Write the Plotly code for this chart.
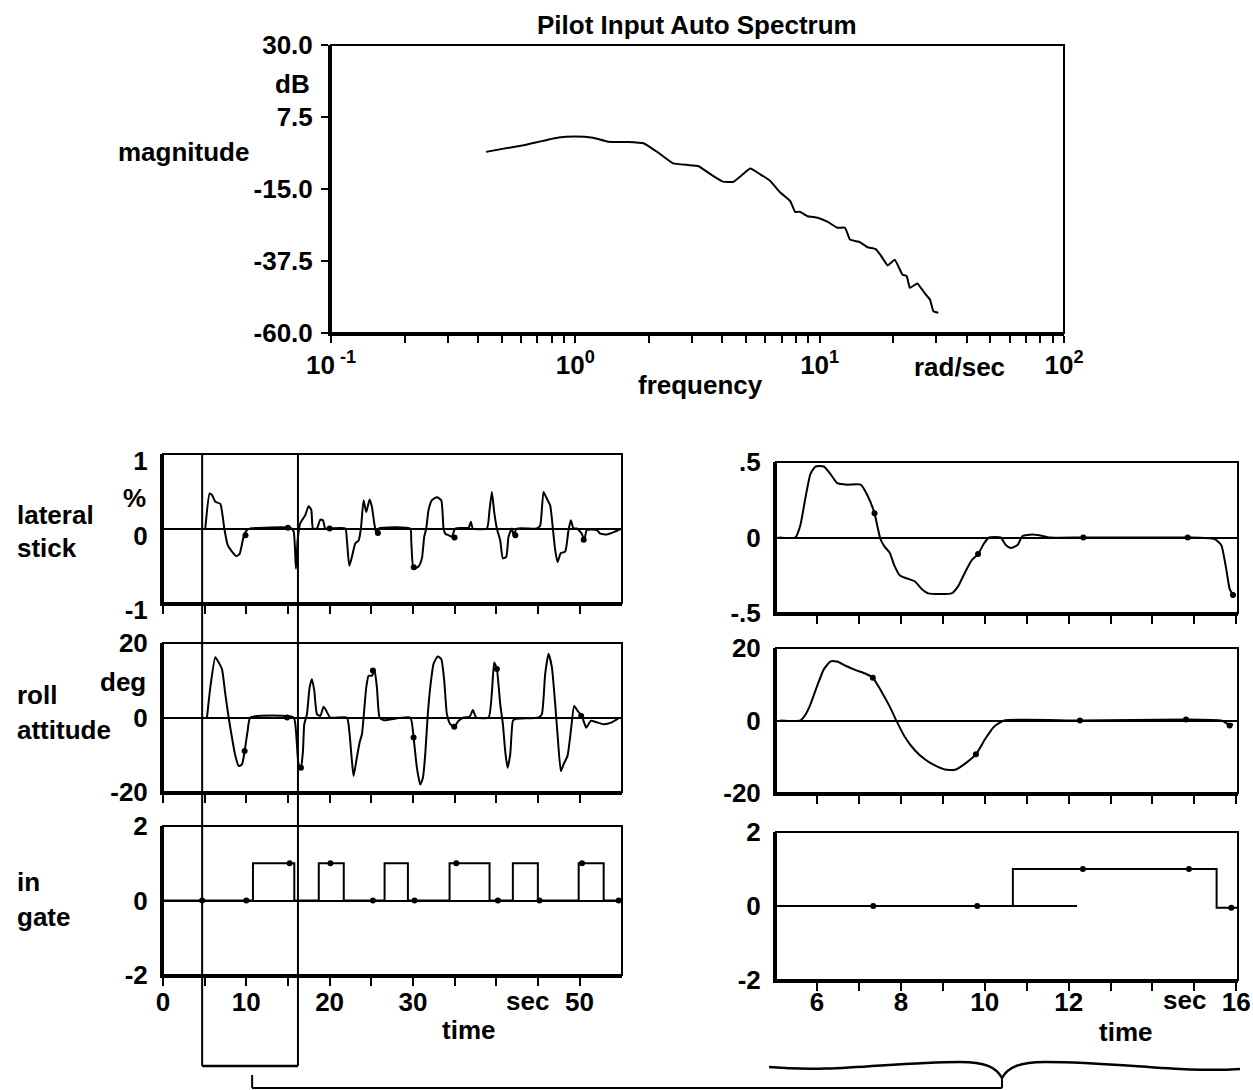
import plotly.graph_objects as go

W, H = 1253, 1090
FONT = dict(family="Liberation Sans, Arial, sans-serif", size=26, color="black", weight="bold")

# ---------------- data ----------------
# Pilot input auto spectrum (rad/sec, dB)
spec_freq = [0.431, 0.614, 0.853, 1.0, 1.18, 1.36, 1.64, 1.9, 2.18, 2.51, 2.89, 3.18, 3.66,
             4.02, 4.42, 4.85, 5.2, 5.71, 6.28, 6.9, 7.58, 7.94, 8.3, 8.93, 9.81, 10.8, 11.8,
             12.7, 13.3, 14.6, 15.7, 16.9, 17.7, 19.0, 20.3, 21.8, 22.7, 23.4, 25.1, 27.0,
             28.3, 29.2, 30.6]
spec_db = [-3.4, -1.3, 1.1, 1.4, 1.0, -0.2, -0.3, -0.7, -3.6, -7.0, -7.5, -7.8, -10.9,
           -12.7, -12.8, -10.4, -8.6, -10.4, -12.5, -16.1, -18.8, -22.2, -22.1, -23.5, -24.0, -25.3, -27.1,
           -27.1, -30.8, -31.6, -33.2, -33.7, -35.5, -38.9, -37.1, -41.7, -42.2, -45.9, -44.5, -47.7,
           -49.6, -53.2, -53.7]

# full run: lateral stick (%), time in sec
lat_full = [(5.08, 0), (5.6, 0.47), (5.88, 0.45), (6.28, 0.36), (6.88, 0.33), (7.36, 0), (7.76, -0.22),
            (8.28, -0.31), (8.8, -0.37), (9.2, -0.34), (9.68, -0.11), (10.08, -0.02), (10.48, 0),
            (15.28, 0.01), (15.68, -0.04), (15.96, -0.54), (16.16, -0.16), (16.48, 0.07), (17.08, 0.18),
            (17.48, 0.30), (17.8, 0.25), (18.0, 0), (18.48, 0), (18.88, 0.12), (19.2, 0.11), (19.48, 0),
            (20.08, 0), (21.88, 0), (22.08, -0.16), (22.36, -0.5), (22.68, -0.38), (23.08, -0.2),
            (23.48, -0.16), (23.76, 0), (24.08, 0.38), (24.4, 0.22), (24.8, 0.39), (25.08, 0.29),
            (25.36, 0.07), (25.6, -0.07), (25.88, 0), (29.68, 0), (29.8, -0.16), (30.08, -0.54),
            (30.68, -0.51), (31.08, -0.4), (31.36, -0.11), (31.6, 0), (31.88, 0.25), (32.28, 0.38),
            (32.88, 0.42), (33.4, 0.38), (33.68, 0), (33.88, -0.07), (34.28, -0.09), (34.68, -0.11),
            (35.08, 0), (36.68, 0.01), (36.96, 0.09), (37.2, 0), (38.88, 0), (39.2, 0.25), (39.48, 0.49),
            (39.76, 0.22), (40.08, 0), (40.48, -0.16), (40.8, -0.4), (41.2, -0.38), (41.48, -0.11),
            (41.88, 0), (42.08, -0.09), (42.48, 0), (44.88, 0), (45.28, 0.04), (45.68, 0.49),
            (46.08, 0.40), (46.48, 0.31), (46.8, 0), (47.08, -0.29), (47.36, -0.45), (47.76, -0.33),
            (48.28, -0.31), (48.68, -0.02), (48.96, 0.11), (49.28, 0), (49.68, 0), (50.28, -0.07),
            (50.56, -0.16), (50.88, -0.02), (52.08, -0.02), (52.48, -0.07), (53.28, -0.08),
            (54.28, -0.04), (54.88, -0.01)]
lat_full_dot_t = [9.9, 15.0, 20.0, 25.8, 30.1, 35.0, 42.3, 50.5]
lat_full_dot_v = [-0.09, 0.01, 0.0, -0.06, -0.52, -0.12, -0.09, -0.15]

# full run: roll attitude (deg)
roll_full = [(5.28, 0), (5.68, 8.1), (6.28, 16.2), (6.68, 14.8), (7.08, 13.0), (7.48, 6.3), (7.88, 0),
             (8.28, -5.4), (8.68, -10.3), (9.08, -13.0), (9.48, -12.6), (9.8, -9.0), (10.16, -3.6),
             (10.48, 0), (15.68, 0), (15.96, -3.6), (16.28, -12.6), (16.56, -13.5), (16.8, -9.0),
             (16.96, -1.8), (17.28, 0.9), (17.6, 8.1), (17.88, 10.3), (18.16, 7.2), (18.48, 0.9),
             (18.88, 0.4), (19.28, 2.9), (19.6, 1.8), (20.08, 0), (22.08, 0), (22.36, -3.6),
             (22.68, -11.7), (22.88, -15.7), (23.2, -11.7), (23.6, -6.7), (23.88, -4.5), (24.08, 0),
             (24.4, 8.1), (24.68, 11.2), (25.08, 11.2), (25.4, 12.6), (25.68, 8.1), (26.0, 0),
             (26.48, -0.7), (29.68, 0), (30.08, -5.4), (30.48, -13.5), (30.88, -18.0), (31.2, -16.2),
             (31.48, -9.9), (31.76, 0), (32.08, 8.1), (32.48, 14.4), (32.96, 16.4), (33.4, 15.7),
             (33.76, 9.9), (34.08, 0.9), (34.48, -1.8), (34.96, -2.5), (35.48, -0.9), (36.08, 0),
             (36.8, 0.2), (37.2, 2.0), (37.6, 0), (39.08, 0), (39.48, 6.7), (39.76, 14.8), (40.08, 13.0),
             (40.48, 3.6), (40.8, -1.8), (41.08, -9.0), (41.36, -13.5), (41.68, -9.9), (42.0, -0.9),
             (42.28, -0.4), (45.08, 0), (45.48, 0.9), (45.88, 11.7), (46.28, 17.1), (46.68, 13.5),
             (47.08, 3.6), (47.36, -4.5), (47.76, -14.4), (48.08, -12.6), (48.56, -10.3), (48.96, -3.6),
             (49.36, 3.1), (49.76, 1.8), (50.28, 0.4), (50.8, -2.7), (51.36, -0.9), (52.08, -1.3),
             (52.88, -1.8), (53.88, -1.3), (54.68, -0.2)]
roll_full_dot_t = [9.8, 14.9, 16.56, 25.2, 30.08, 34.96, 40.08, 50.2]
roll_full_dot_v = [-9.0, 0.0, -13.5, 12.6, -5.4, -2.5, 13.0, 0.4]

# full run: in-gate flag (step changes)
gate_full_t = [0.0, 10.8, 15.76, 18.7, 21.7, 26.6, 29.4, 34.4, 39.2, 42.0, 45.0, 49.9, 52.9, 54.7]
gate_full_v = [0, 1, 0, 1, 0, 1, 0, 1, 0, 1, 0, 1, 0, 0]
gate_full_dot_t = [4.7, 10.0, 15.2, 20.1, 25.2, 30.2, 35.2, 40.2, 45.2, 50.3, 54.7]
gate_full_dot_v = [0, 0, 1, 1, 0, 0, 1, 0, 0, 1, 0]

# expanded segment: lateral stick
lat_zoom = [(5.08, 0), (5.48, 0), (5.6, 0.08), (5.72, 0.26), (5.84, 0.42), (5.96, 0.47), (6.16, 0.47),
            (6.32, 0.42), (6.48, 0.36), (6.72, 0.35), (7.04, 0.35), (7.2, 0.28), (7.37, 0.16),
            (7.45, 0.06), (7.51, -0.01), (7.61, -0.06), (7.73, -0.10), (7.85, -0.19), (7.97, -0.25),
            (8.13, -0.27), (8.33, -0.29), (8.49, -0.34), (8.65, -0.37), (9.21, -0.37), (9.37, -0.32),
            (9.53, -0.23), (9.69, -0.15), (9.84, -0.11), (9.98, -0.04), (10.1, 0), (10.38, 0),
            (10.5, -0.05), (10.62, -0.07), (10.78, -0.05), (10.9, 0.01), (11.14, 0.02), (11.38, 0.01),
            (11.54, 0), (12.35, 0), (14.84, 0), (15.48, -0.01), (15.64, -0.05), (15.76, -0.21),
            (15.84, -0.34), (15.92, -0.38)]
lat_zoom_dot_t = [7.37, 9.84, 12.35, 14.84, 15.92]
lat_zoom_dot_v = [0.16, -0.11, 0.0, 0.0, -0.38]

# expanded segment: roll attitude
roll_zoom = [(5.12, 0), (5.6, 0), (5.72, 1.6), (5.84, 4.4), (6.0, 9.5), (6.16, 14.1), (6.32, 16.3),
             (6.48, 16.3), (6.68, 15.1), (6.92, 13.9), (7.16, 12.9), (7.33, 11.8), (7.53, 8.1),
             (7.73, 3.9), (7.89, 0), (8.09, -4.5), (8.33, -8.2), (8.57, -10.7), (8.81, -12.4),
             (9.05, -13.5), (9.29, -13.6), (9.53, -11.9), (9.79, -9.3), (10.02, -4.9), (10.22, -1.7),
             (10.46, 0), (12.27, 0), (14.8, 0.3), (15.64, 0), (15.76, -0.7), (15.84, -1.4), (15.92, -1.0)]
roll_zoom_dot_t = [7.33, 9.79, 12.27, 14.8, 15.84]
roll_zoom_dot_v = [11.8, -9.3, 0.0, 0.3, -1.4]

# expanded segment: in-gate flag
gate_zoom_t = [5.05, 10.67, 15.53, 16.02]
gate_zoom_v = [0, 1, -0.05, -0.05]
gate_zoom_dot_t = [7.34, 9.82, 12.34, 14.87, 15.88]
gate_zoom_dot_v = [0, 0, 1, 1, -0.05]
gate_zoom_ref_end = 12.2

# tick positions and labels
freq_major = [0.1, 1, 10, 100]
freq_major_text = ["10<sup> -1</sup>", "10<sup>0</sup>", "10<sup>1</sup>", "10<sup>2</sup>"]
freq_minor = [m * 10 ** e for e in (-1, 0, 1) for m in range(2, 10)]
full_major = [0, 10, 20, 30, 50]
full_all = list(range(0, 55, 5))
zoom_major = [6, 8, 10, 12, 16]
zoom_all = list(range(6, 17))


def px(x):
    return x / W


def py(y):
    return 1 - y / H


def ax(n):
    return "" if n == 1 else str(n)


# panel frames in page pixels: (left, right, top, bottom)
frames = {
    1: (331, 1064, 45, 333),
    2: (163, 622, 454, 603),
    3: (163, 622, 643, 792),
    4: (163, 622, 826, 975),
    5: (776, 1238, 462, 613),
    6: (776, 1238, 648, 793),
    7: (776, 1238, 832, 980),
}

fig = go.Figure()
LINE = dict(color="black", width=2)
DOT = dict(color="black", size=6)


def curve(pairs, n, shape="spline"):
    t = [p[0] for p in pairs]
    v = [p[1] for p in pairs]
    line = dict(LINE, shape=shape)
    if shape == "spline":
        line["smoothing"] = 0.5
    fig.add_trace(go.Scatter(x=t, y=v, mode="lines", line=line, xaxis=f"x{ax(n)}", yaxis=f"y{ax(n)}"))


def dots(t, v, n):
    fig.add_trace(go.Scatter(x=t, y=v, mode="markers", marker=DOT, xaxis=f"x{ax(n)}", yaxis=f"y{ax(n)}"))


fig.add_trace(go.Scatter(x=spec_freq, y=spec_db, mode="lines",
                         line=dict(color="black", width=2, shape="spline", smoothing=0.3),
                         xaxis="x", yaxis="y"))
curve(lat_full, 2)
dots(lat_full_dot_t, lat_full_dot_v, 2)
curve(roll_full, 3)
dots(roll_full_dot_t, roll_full_dot_v, 3)
fig.add_trace(go.Scatter(x=gate_full_t, y=gate_full_v, mode="lines", line=dict(LINE, shape="hv"),
                         xaxis="x4", yaxis="y4"))
dots(gate_full_dot_t, gate_full_dot_v, 4)
curve(lat_zoom, 5)
dots(lat_zoom_dot_t, lat_zoom_dot_v, 5)
curve(roll_zoom, 6)
dots(roll_zoom_dot_t, roll_zoom_dot_v, 6)
fig.add_trace(go.Scatter(x=gate_zoom_t, y=gate_zoom_v, mode="lines", line=dict(LINE, shape="hv"),
                         xaxis="x7", yaxis="y7"))
dots(gate_zoom_dot_t, gate_zoom_dot_v, 7)

layout = dict(template="none", width=W, height=H, margin=dict(l=0, r=0, t=0, b=0, pad=0),
              paper_bgcolor="white", plot_bgcolor="white", showlegend=False, font=FONT)

tickfont = dict(FONT)
TICK = dict(ticks="outside", ticklen=8, tickwidth=2, tickcolor="black")
for n, (l, r, t, b) in frames.items():
    xa = dict(domain=[px(l), px(r)], anchor=f"y{ax(n)}", showgrid=False, zeroline=False,
              automargin=False, showline=True, linewidth=3, linecolor="black", mirror=False,
              tickfont=tickfont, **TICK)
    ya = dict(domain=[py(b), py(t)], anchor=f"x{ax(n)}", showgrid=False, automargin=False,
              showline=True, linewidth=3, linecolor="black", mirror=False,
              tickfont=tickfont, zeroline=True, zerolinecolor="black", zerolinewidth=2)
    if n == 1:
        xa.update(type="log", range=[-1, 2], tickmode="array", tickvals=freq_major,
                  ticktext=freq_major_text, ticklen=7,
                  minor=dict(tickmode="array", tickvals=freq_minor, ticks="outside", ticklen=7,
                             tickwidth=2, tickcolor="black", showgrid=False))
        ya.update(range=[-60, 30], tickvals=[30, 7.5, -15, -37.5, -60],
                  ticktext=["30.0", "7.5", "-15.0", "-37.5", "-60.0"], zeroline=False,
                  ticks="outside", ticklen=7, tickwidth=2, tickcolor="black", ticklabelstandoff=3)
    elif n in (2, 3, 4):
        xa.update(range=[0, 55.1])
        if n == 4:
            xa.update(tickmode="array", tickvals=full_major, ticktext=[str(v) for v in full_major],
                      ticklabelstandoff=-6,
                      minor=dict(tickmode="array", tickvals=[v for v in full_all if v not in full_major],
                                 ticks="outside", ticklen=8, tickwidth=2, tickcolor="black",
                                 showgrid=False))
        else:
            xa.update(tickmode="array", tickvals=full_all, showticklabels=False)
        ya.update(ticks="", ticklabelstandoff=7)
    else:
        xa.update(range=[5.02, 16.04])
        if n == 7:
            xa.update(tickmode="array", tickvals=zoom_major, ticktext=[str(v) for v in zoom_major],
                      ticklabelstandoff=-11,
                      minor=dict(tickmode="array", tickvals=[v for v in zoom_all if v not in zoom_major],
                                 ticks="outside", ticklen=8, tickwidth=2, tickcolor="black",
                                 showgrid=False))
        else:
            xa.update(tickmode="array", tickvals=zoom_all, showticklabels=False)
        ya.update(ticks="", ticklabelstandoff=7)
    if n in (2, 5):
        rng = [-1, 1] if n == 2 else [-0.5, 0.5]
        txt = ["-1", "0", "1"] if n == 2 else ["-.5", "0", ".5"]
        ya.update(range=rng, tickvals=[rng[0], 0, rng[1]], ticktext=txt)
        if n == 2:
            ya.update(ticklabelshift=7)
    elif n in (3, 6):
        ya.update(range=[-20, 20], tickvals=[-20, 0, 20], ticktext=["-20", "0", "20"])
    elif n in (4, 7):
        ya.update(range=[-2, 2], tickvals=[-2, 0, 2], ticktext=["-2", "0", "2"])
        if n == 7:
            ya.update(zeroline=False)
    layout[f"xaxis{ax(n)}"] = xa
    layout[f"yaxis{ax(n)}"] = ya

fig.update_layout(**layout)

# thinner top / right frame edges
for n in frames:
    fig.add_shape(type="rect", xref=f"x{ax(n)} domain", yref=f"y{ax(n)} domain", x0=0, x1=1, y0=0, y1=1,
                  line=dict(color="black", width=2), layer="above")

# partial zero reference in the expanded gate panel
fig.add_shape(type="line", xref="x7", yref="y7", x0=5.02, x1=gate_zoom_ref_end, y0=0, y1=0,
              line=dict(color="black", width=2))

# window of the full run that is expanded on the right
win_start, win_end, win_link = 4.7, 16.2, 10.7
for xv in (win_start, win_end):
    fig.add_shape(type="line", xref="x4", yref="paper", x0=xv, x1=xv, y0=py(1066), y1=py(454),
                  line=dict(color="black", width=2), layer="above")
fig.add_shape(type="line", xref="x4", yref="paper", x0=win_start, x1=win_end, y0=py(1066), y1=py(1066),
              line=dict(color="black", width=2.5))
fig.add_shape(type="line", xref="x4", yref="paper", x0=win_link, x1=win_link, y0=py(1075), y1=py(1088),
              line=dict(color="black", width=2))
fig.add_shape(type="line", xref="paper", yref="paper", x0=px(252), x1=px(1002), y0=py(1088), y1=py(1088),
              line=dict(color="black", width=2))
fig.add_shape(type="line", xref="paper", yref="paper", x0=px(1002), x1=px(1002), y0=py(1078), y1=py(1088),
              line=dict(color="black", width=2))


def brace_path(pts):
    out = []
    for cmd, coords in pts:
        s = " ".join(f"{px(x):.5f},{py(y):.5f}" for x, y in coords)
        out.append(f"{cmd} {s}")
    return " ".join(out)


brace = brace_path([
    ("M", [(769, 1067)]),
    ("C", [(835, 1073), (890, 1062), (960, 1062)]),
    ("C", [(985, 1062), (996, 1067), (1002, 1078)]),
    ("C", [(1008, 1067), (1020, 1062), (1045, 1062)]),
    ("C", [(1120, 1062), (1180, 1073), (1240, 1069)]),
])
fig.add_shape(type="path", xref="paper", yref="paper", path=brace, line=dict(color="black", width=2.5))


def note(text, x, y, anchor="center"):
    fig.add_annotation(text=text, x=px(x), y=py(y), xref="paper", yref="paper", showarrow=False,
                       xanchor=anchor, yanchor="middle", font=FONT)


note("Pilot Input Auto Spectrum", 697, 25)
note("dB", 312, 84, "right")
note("magnitude", 183, 152)
note("frequency", 700, 385)
note("rad/sec", 959, 367)
note("%", 148, 498, "right")
note("deg", 148, 682, "right")
note("lateral", 15, 515, "left")
note("stick", 15, 548, "left")
note("roll", 15, 695, "left")
note("attitude", 15, 730, "left")
note("in", 15, 882, "left")
note("gate", 15, 917, "left")
note("sec", 527, 1001)
note("time", 468, 1030)
note("sec", 1184, 1000)
note("time", 1125, 1032)

fig.write_html("out.html")
